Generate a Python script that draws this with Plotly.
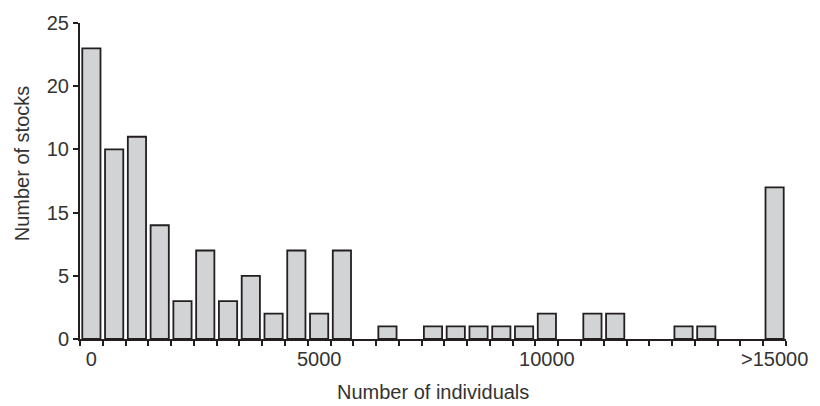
import plotly.graph_objects as go

bin_start = list(range(0, 15001, 500))
counts = [23, 15, 16, 9, 3, 7, 3, 5, 2, 7, 2, 7, 0, 1, 0, 1, 1, 1, 1, 1,
          2, 0, 2, 2, 0, 0, 1, 1, 0, 0, 12]
x_tickvals = [0, 5000, 10000, 15000]
x_ticktext = ["0", "5000", "10000", ">15000"]
y_tickvals = [0, 5, 10, 15, 20, 25]
y_ticktext = ["0", "5", "15", "10", "20", "25"]
bin_edges = [b - 250 for b in bin_start] + [15250]

ink = "#231f20"
txt = "#333333"
font = "Liberation Sans"

fig = go.Figure(go.Bar(
    x=bin_start, y=counts,
    marker=dict(color="#d1d3d4",
                line=dict(color=ink, width=[1.8 if c > 0 else 0 for c in counts])),
))

fig.update_layout(
    width=820, height=406,
    margin=dict(l=80, r=25, t=19, b=67),
    paper_bgcolor="white", plot_bgcolor="white",
    bargap=0.2, showlegend=False,
    font=dict(family=font, size=20, color=txt),
)
fig.update_xaxes(
    range=[-250, 15250], showgrid=False, zeroline=False,
    showline=True, linecolor=ink, linewidth=2,
    tickmode="array", tickvals=x_tickvals, ticktext=x_ticktext,
    ticks="outside", ticklen=1, tickcolor="rgba(0,0,0,0)",
    tickfont=dict(family=font, size=20, color=txt),
    minor=dict(tickmode="array", tickvals=bin_edges, ticks="outside",
               ticklen=5, tickwidth=2, tickcolor=ink, showgrid=False),
)
fig.update_yaxes(
    range=[0, 25], showgrid=False, zeroline=False,
    showline=True, linecolor=ink, linewidth=2,
    tickmode="array", tickvals=y_tickvals, ticktext=y_ticktext,
    ticks="outside", ticklen=5, tickwidth=2, tickcolor=ink,
    tickfont=dict(family=font, size=20, color=txt),
)
fig.add_annotation(text="Number of stocks", xref="paper", yref="paper",
                   x=0, y=0.556, xshift=-58, textangle=-90, showarrow=False,
                   xanchor="center", yanchor="middle",
                   font=dict(family=font, size=20, color=txt))
fig.add_annotation(text="Number of individuals", xref="paper", yref="paper",
                   x=0.5, y=0, yshift=-53, showarrow=False,
                   xanchor="center", yanchor="middle",
                   font=dict(family=font, size=20, color=txt))

fig.write_html("out.html", config={"displayModeBar": False},
               post_script="document.body.style.margin='0';")
